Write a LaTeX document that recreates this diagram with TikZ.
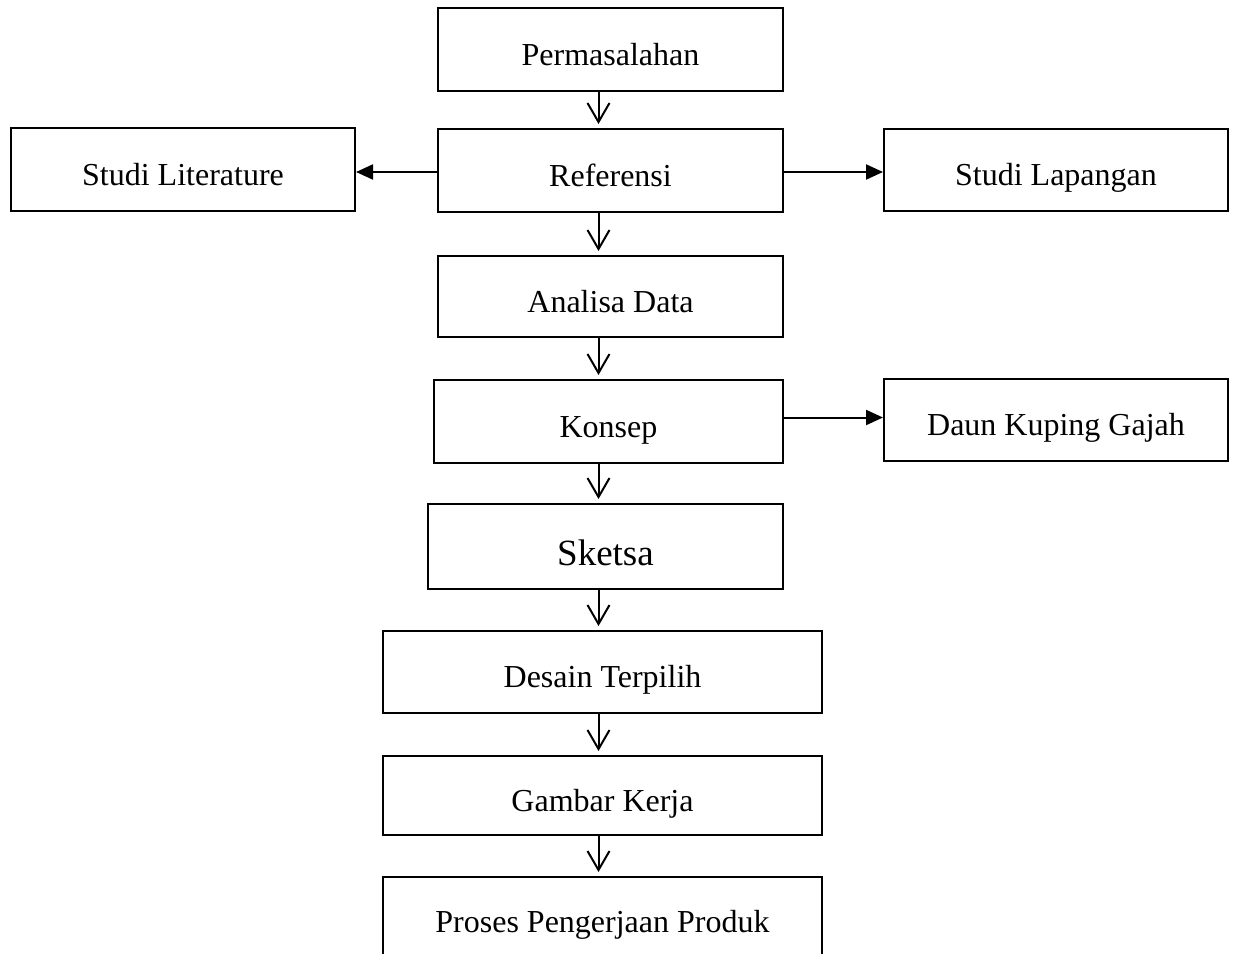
\documentclass[tikz,border=0pt]{standalone}
\usepackage{fontspec}
\setmainfont{Liberation Serif}
\usetikzlibrary{arrows.meta}
\begin{document}
\begin{tikzpicture}[x=0.5pt,y=-0.5pt,
  box/.style={draw=black,line width=1pt,rectangle,inner sep=0pt,align=center,
    text height=17.5pt,text depth=2pt,
    font=\fontsize{16}{19}\selectfont},
  bigbox/.style={box,text height=20.5pt,text depth=2pt,font=\fontsize{18.5}{22}\selectfont},
  down/.style={line width=1pt,-{Straight Barb[length=9.5pt,width=11pt,line width=1pt]},shorten >=2pt},
  side/.style={line width=1pt,-{Triangle[length=8.5pt,width=7.5pt]}}]
\clip (0,0) rectangle (1235,953);
\fill[white] (0,0) rectangle (1235,953);
\node[box,minimum width=172.5pt,minimum height=41.5pt] (perm) at (610.5,49.5) {Permasalahan};
\node[box,minimum width=172.5pt,minimum height=41.5pt] (ref) at (610.5,170.5) {Referensi};
\node[box,minimum width=172pt,minimum height=41.5pt] (lit) at (183,169.5) {Studi Literature};
\node[box,minimum width=172pt,minimum height=41pt] (lap) at (1056,170) {Studi Lapangan};
\node[box,minimum width=172.5pt,minimum height=40.5pt] (ana) at (610.5,296.5) {Analisa Data};
\node[box,minimum width=174.5pt,minimum height=41.5pt] (kon) at (608.5,421.5) {Konsep};
\node[box,minimum width=172pt,minimum height=41pt] (daun) at (1056,420) {Daun Kuping Gajah};
\node[bigbox,minimum width=177.5pt,minimum height=42.5pt] (sket) at (605.5,546.5) {Sketsa};
\node[box,minimum width=219.5pt,minimum height=41pt] (des) at (602.5,672) {Desain Terpilih};
\node[box,minimum width=219.5pt,minimum height=39.5pt] (gam) at (602.5,795.5) {Gambar Kerja};
\node[box,minimum width=219.5pt,minimum height=40pt] (pros) at (602.5,917) {Proses Pengerjaan Produk};
\coordinate (ax) at (598.5,0);
\coordinate (ly) at (0,172);
\coordinate (ky) at (0,417.5);
\draw[down] (perm.south -| ax) -- (ref.north -| ax);
\draw[down] (ref.south -| ax) -- (ana.north -| ax);
\draw[down] (ana.south -| ax) -- (kon.north -| ax);
\draw[down] (kon.south -| ax) -- (sket.north -| ax);
\draw[down] (sket.south -| ax) -- (des.north -| ax);
\draw[down] (des.south -| ax) -- (gam.north -| ax);
\draw[down] (gam.south -| ax) -- (pros.north -| ax);
\draw[side] (ref.west |- ly) -- (lit.east |- ly);
\draw[side] (ref.east |- ly) -- (lap.west |- ly);
\draw[side] (kon.east |- ky) -- (daun.west |- ky);
\end{tikzpicture}
\end{document}
